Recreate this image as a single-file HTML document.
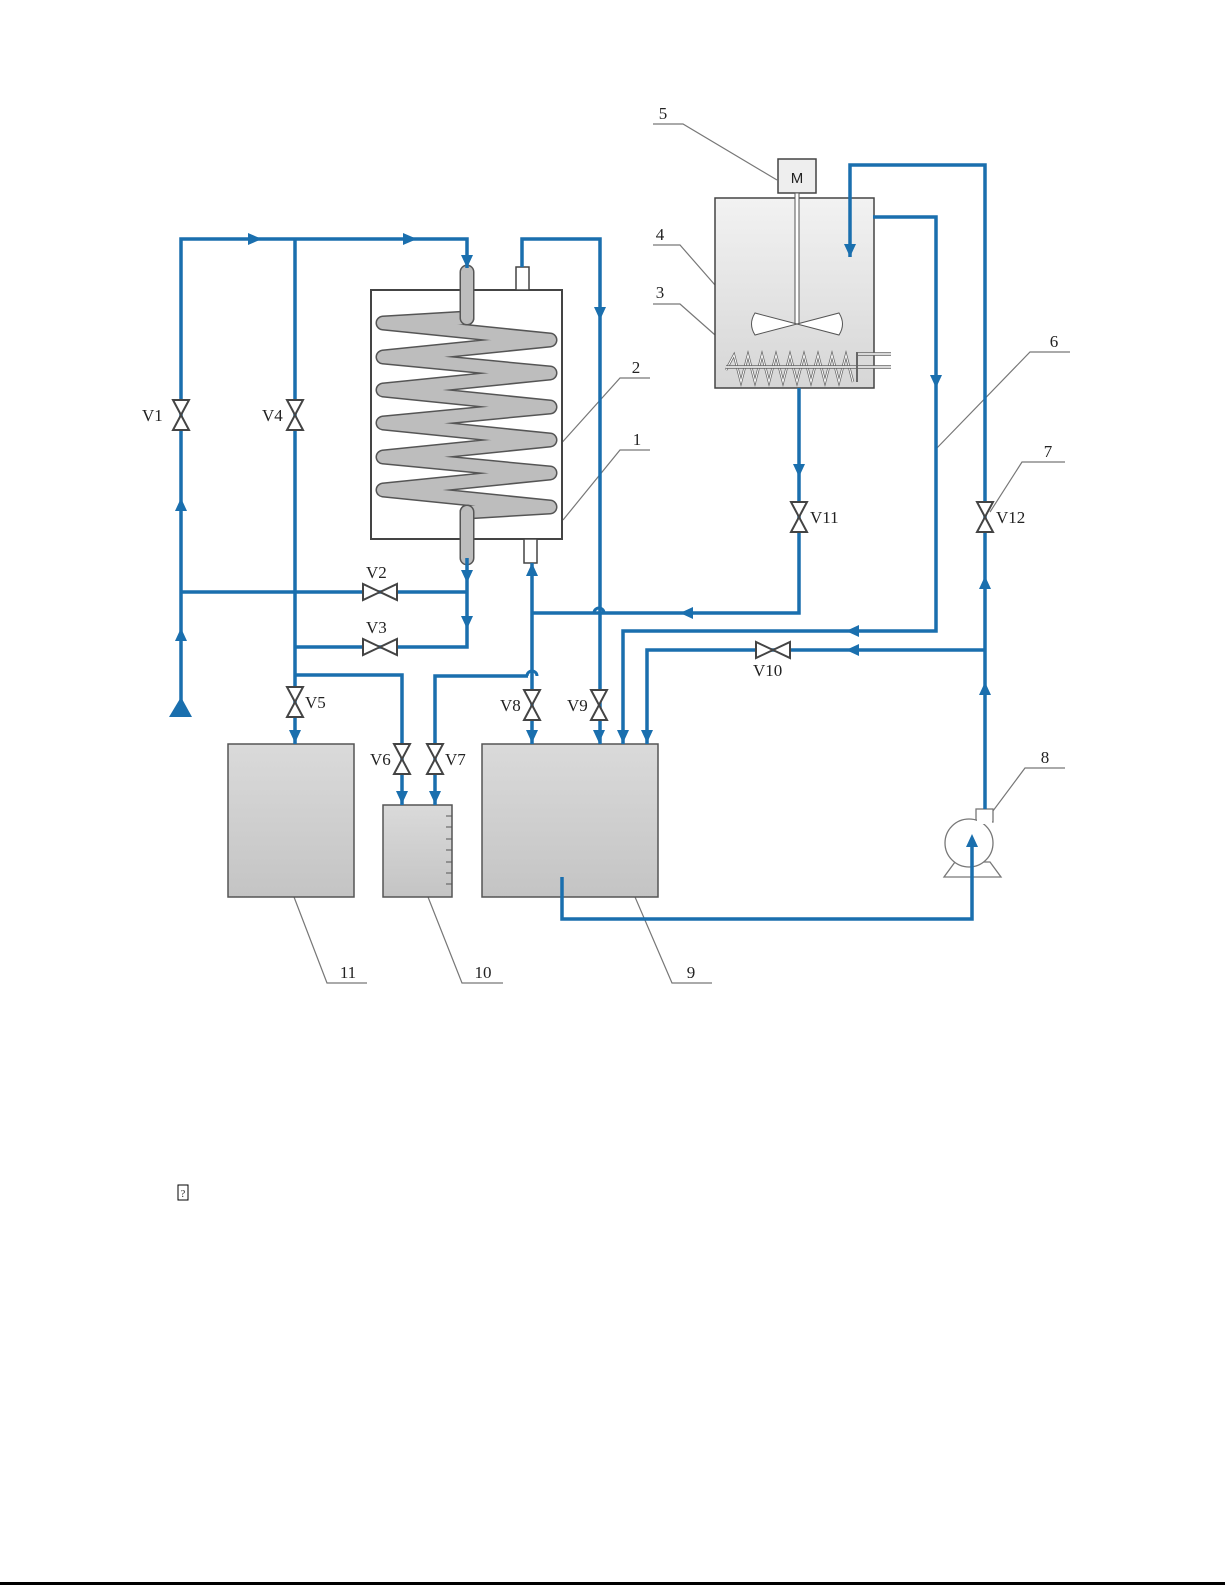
<!DOCTYPE html>
<html><head><meta charset="utf-8"><style>
html,body{margin:0;padding:0;background:#fff;}
svg{display:block;}
text{font-family:"Liberation Serif",serif;font-size:17px;fill:#222;}
</style></head><body>
<svg width="1225" height="1585" viewBox="0 0 1225 1585" xmlns="http://www.w3.org/2000/svg">
<defs>
<linearGradient id="g1" x1="0" y1="0" x2="0" y2="1"><stop offset="0" stop-color="#dadada"/><stop offset="1" stop-color="#c4c4c4"/></linearGradient>
<linearGradient id="g2" x1="0" y1="0" x2="0" y2="1"><stop offset="0" stop-color="#f2f2f2"/><stop offset="1" stop-color="#d6d6d6"/></linearGradient>
</defs>
<!-- leader lines -->
<g stroke="#777" stroke-width="1.2" fill="none">
<polyline points="653,124 683,124 777,180"/>
<polyline points="653,245 680,245 715,285"/>
<polyline points="653,304 680,304 740,357"/>
<polyline points="650,378 620,378 540,467"/>
<polyline points="650,450 620,450 563,520"/>
<polyline points="1070,352 1030,352 935,450"/>
<polyline points="1065,462 1022,462 990,512"/>
<polyline points="1065,768 1025,768 975,835"/>
<polyline points="712,983 672,983 635,897"/>
<polyline points="428,897 462,983 503,983"/>
<polyline points="294,897 327,983 367,983"/>
</g>
<!-- heat exchanger -->
<rect x="371" y="290" width="191" height="249" fill="#fff" stroke="#444" stroke-width="2"/>
<rect x="516" y="267" width="13" height="23" fill="#fff" stroke="#444" stroke-width="1.5"/>
<rect x="524" y="539" width="13" height="24" fill="#fff" stroke="#444" stroke-width="1.5"/>
<g fill="none" stroke-linecap="round" stroke-linejoin="round">
<polyline stroke="#555" stroke-width="15" points="467,318 383,323 550,340 383,357 550,373 383,390 550,407 383,423 550,440 383,457 550,473 383,490 550,507 467,512"/>
<polyline stroke="#bdbdbd" stroke-width="12" points="467,318 383,323 550,340 383,357 550,373 383,390 550,407 383,423 550,440 383,457 550,473 383,490 550,507 467,512"/>
<line x1="467" y1="272" x2="467" y2="318" stroke="#555" stroke-width="15"/>
<line x1="467" y1="272" x2="467" y2="318" stroke="#bdbdbd" stroke-width="12"/>
<line x1="467" y1="512" x2="467" y2="558" stroke="#555" stroke-width="15"/>
<line x1="467" y1="512" x2="467" y2="558" stroke="#bdbdbd" stroke-width="12"/>
</g>
<!-- reactor tank -->
<rect x="715" y="198" width="159" height="190" fill="url(#g2)" stroke="#444" stroke-width="1.5"/>
<rect x="778" y="159" width="38" height="34" fill="#eee" stroke="#444" stroke-width="1.5"/>
<text x="797" y="183" text-anchor="middle" style="font-family:'Liberation Sans',sans-serif;font-size:15px">M</text>
<rect x="795" y="193" width="4" height="131" fill="#fff" stroke="#555" stroke-width="1"/>
<path d="M797,324 L755,313 Q748,324 755,335 Z M797,324 L839,313 Q846,324 839,335 Z" fill="#fff" stroke="#555" stroke-width="1"/>
<polyline points="726,370 734,355 741,382 748,355 755,382 762,355 769,382 776,355 783,382 790,355 797,382 804,355 811,382 818,355 825,382 832,355 839,382 846,355 853,382" fill="none" stroke="#666" stroke-width="2.5"/>
<polyline points="726,370 734,355 741,382 748,355 755,382 762,355 769,382 776,355 783,382 790,355 797,382 804,355 811,382 818,355 825,382 832,355 839,382 846,355 853,382" fill="none" stroke="#fff" stroke-width="1"/>
<line x1="726" y1="367" x2="891" y2="367" stroke="#666" stroke-width="3.5"/><line x1="726" y1="367" x2="891" y2="367" stroke="#fff" stroke-width="1.5"/>
<line x1="857" y1="354" x2="891" y2="354" stroke="#666" stroke-width="3.5"/><line x1="857" y1="354" x2="891" y2="354" stroke="#fff" stroke-width="1.5"/>
<line x1="857" y1="352" x2="857" y2="382" stroke="#666" stroke-width="2"/>
<!-- tanks -->
<rect x="228" y="744" width="126" height="153" fill="url(#g1)" stroke="#555" stroke-width="1.5"/>
<rect x="383" y="805" width="69" height="92" fill="url(#g1)" stroke="#555" stroke-width="1.5"/>
<g stroke="#555" stroke-width="1"><line x1="446" y1="816" x2="452" y2="816"/><line x1="446" y1="827" x2="452" y2="827"/><line x1="446" y1="839" x2="452" y2="839"/><line x1="446" y1="850" x2="452" y2="850"/><line x1="446" y1="862" x2="452" y2="862"/><line x1="446" y1="873" x2="452" y2="873"/><line x1="446" y1="884" x2="452" y2="884"/></g>
<rect x="482" y="744" width="176" height="153" fill="url(#g1)" stroke="#555" stroke-width="1.5"/>
<!-- pump -->
<g fill="#fff" stroke="#777" stroke-width="1.3">
<polygon points="944,877 1001,877 990,862 955,862"/>
<rect x="976" y="809" width="17" height="13"/>
<circle cx="969" cy="843" r="24"/>
<rect x="977" y="810" width="15" height="14" stroke="none"/>
</g>
<!-- pipes -->
<g fill="none" stroke="#1a6fae" stroke-width="3.5">
<polyline points="181,715 181,239 467,239 467,268"/>
<line x1="295" y1="239" x2="295" y2="744"/>
<polyline points="522,267 522,239 600,239 600,744"/>
<polyline points="181,592 467,592"/>
<polyline points="467,558 467,647 295,647"/>
<polyline points="295,675 402,675 402,805"/>
<polyline points="435,805 435,676 528,676 M536,676 599,676"/>
<polyline points="532,563 532,744"/>
<polyline points="799,388 799,613 532,613"/>
<polyline points="873,217 936,217 936,631 623,631 623,744"/>
<polyline points="850,257 850,165 985,165 985,809"/>
<polyline points="985,650 647,650 647,744"/>
<polyline points="562,877 562,919 972,919 972,843"/>
</g>
<!-- hops -->
<g fill="none" stroke="#1a6fae" stroke-width="3"><path d="M527,676 a5,5 0 0 1 10,0"/><path d="M594,613 a5,5 0 0 1 10,0"/></g>
<!-- arrows -->
<g fill="#1a6fae">
<polygon points="262,239 248,233 248,245"/>
<polygon points="417,239 403,233 403,245"/>
<polygon points="467,268 461,255 473,255"/>
<polygon points="600,320 594,307 606,307"/>
<polygon points="181,498 175,511 187,511"/>
<polygon points="181,628 175,641 187,641"/>
<polygon points="169,717 192,717 181,697"/>
<polygon points="467,583 461,570 473,570"/>
<polygon points="467,629 461,616 473,616"/>
<polygon points="532,563 526,576 538,576"/>
<polygon points="295,743 289,730 301,730"/>
<polygon points="402,804 396,791 408,791"/>
<polygon points="435,804 429,791 441,791"/>
<polygon points="532,743 526,730 538,730"/>
<polygon points="599,743 593,730 605,730"/>
<polygon points="623,743 617,730 629,730"/>
<polygon points="647,743 641,730 653,730"/>
<polygon points="850,257 844,244 856,244"/>
<polygon points="936,388 930,375 942,375"/>
<polygon points="799,477 793,464 805,464"/>
<polygon points="680,613 693,607 693,619"/>
<polygon points="846,631 859,625 859,637"/>
<polygon points="846,650 859,644 859,656"/>
<polygon points="985,576 979,589 991,589"/>
<polygon points="985,682 979,695 991,695"/>
<polygon points="972,834 966,847 978,847"/>
</g>
<!-- valves -->
<g fill="#fff" stroke="#444" stroke-width="2" stroke-linejoin="miter">
<path d="M173,400 L189,400 L173,430 L189,430 Z"/>
<path d="M287,400 L303,400 L287,430 L303,430 Z"/>
<path d="M287,687 L303,687 L287,717 L303,717 Z"/>
<path d="M394,744 L410,744 L394,774 L410,774 Z"/>
<path d="M427,744 L443,744 L427,774 L443,774 Z"/>
<path d="M524,690 L540,690 L524,720 L540,720 Z"/>
<path d="M591,690 L607,690 L591,720 L607,720 Z"/>
<path d="M791,502 L807,502 L791,532 L807,532 Z"/>
<path d="M977,502 L993,502 L977,532 L993,532 Z"/>
<path d="M363,584 L363,600 L397,584 L397,600 Z"/>
<path d="M363,639 L363,655 L397,639 L397,655 Z"/>
<path d="M756,642 L756,658 L790,642 L790,658 Z"/>
</g>
<!-- labels -->
<text x="142" y="421">V1</text>
<text x="262" y="421">V4</text>
<text x="366" y="578">V2</text>
<text x="366" y="633">V3</text>
<text x="305" y="708">V5</text>
<text x="370" y="765">V6</text>
<text x="445" y="765">V7</text>
<text x="500" y="711">V8</text>
<text x="567" y="711">V9</text>
<text x="753" y="676">V10</text>
<text x="810" y="523">V11</text>
<text x="996" y="523">V12</text>
<text x="663" y="119" text-anchor="middle">5</text>
<text x="660" y="240" text-anchor="middle">4</text>
<text x="660" y="298" text-anchor="middle">3</text>
<text x="636" y="373" text-anchor="middle">2</text>
<text x="637" y="445" text-anchor="middle">1</text>
<text x="1054" y="347" text-anchor="middle">6</text>
<text x="1048" y="457" text-anchor="middle">7</text>
<text x="1045" y="763" text-anchor="middle">8</text>
<text x="691" y="978" text-anchor="middle">9</text>
<text x="483" y="978" text-anchor="middle">10</text>
<text x="348" y="978" text-anchor="middle">11</text>
<rect x="178" y="1185" width="10" height="15" fill="#fff" stroke="#000" stroke-width="1"/>
<text x="183" y="1197" text-anchor="middle" style="font-size:10px">?</text>
<rect x="0" y="1582" width="1225" height="3" fill="#000"/>
</svg>
</body></html>
